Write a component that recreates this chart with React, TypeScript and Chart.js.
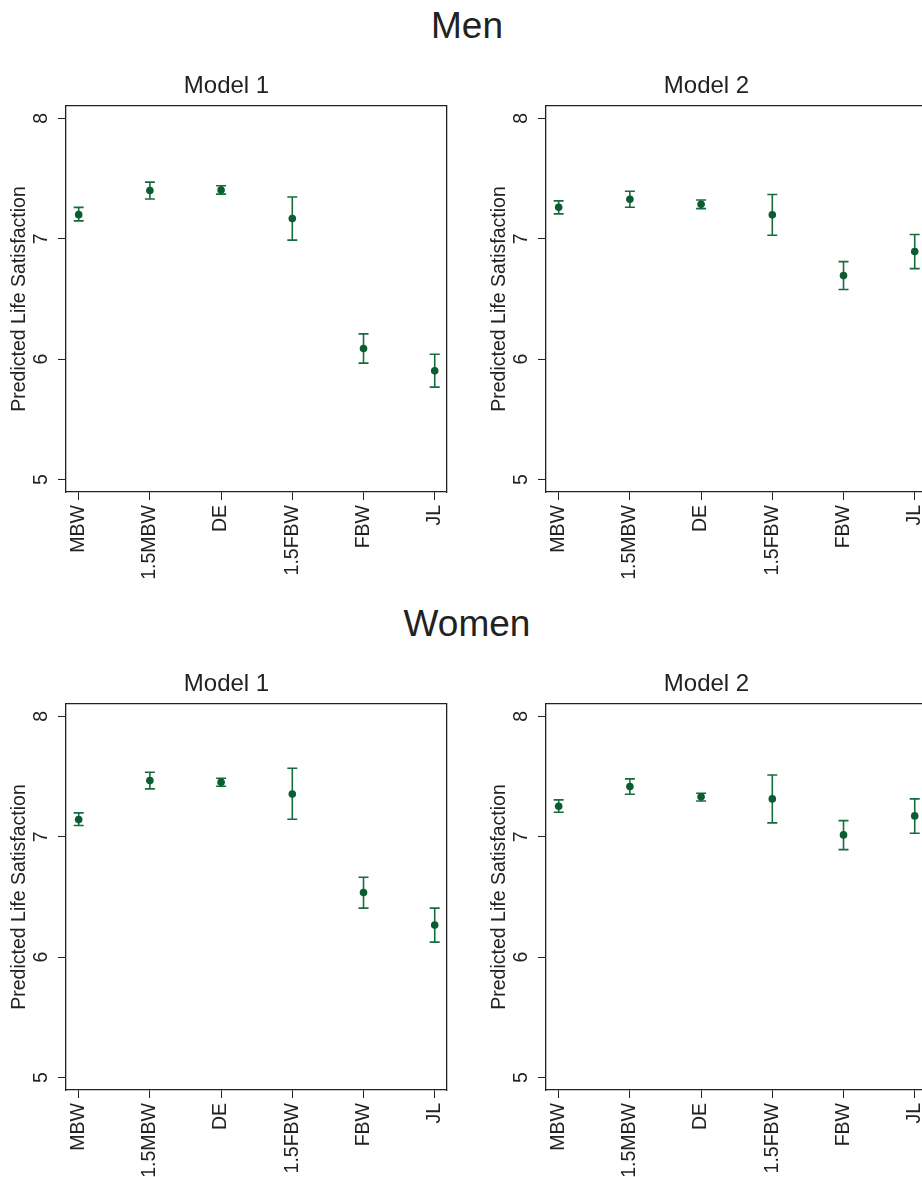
import React, { useEffect, useRef } from 'react';
import { Chart, registerables } from 'chart.js';

Chart.register(...registerables);

// ---------- data ----------
const categories = ['MBW', '1.5MBW', 'DE', '1.5FBW', 'FBW', 'JL'];
const yTicks = [5, 6, 7, 8];
const groupTitles = ['Men', 'Women'];
const modelTitles = ['Model 1', 'Model 2'];
const yAxisTitle = 'Predicted Life Satisfaction';

const menModel1Est = [7.2, 7.4, 7.405, 7.167, 6.089, 5.903];
const menModel1Lo = [7.148, 7.33, 7.37, 6.988, 5.967, 5.768];
const menModel1Hi = [7.26, 7.47, 7.44, 7.347, 6.21, 6.041];

const menModel2Est = [7.261, 7.328, 7.286, 7.198, 6.694, 6.893];
const menModel2Lo = [7.206, 7.261, 7.25, 7.029, 6.578, 6.752];
const menModel2Hi = [7.314, 7.394, 7.322, 7.367, 6.81, 7.035];

const womenModel1Est = [7.142, 7.466, 7.452, 7.355, 6.537, 6.266];
const womenModel1Lo = [7.093, 7.397, 7.419, 7.145, 6.407, 6.125];
const womenModel1Hi = [7.198, 7.535, 7.485, 7.568, 6.664, 6.407];

const womenModel2Est = [7.253, 7.416, 7.331, 7.314, 7.015, 7.173];
const womenModel2Lo = [7.203, 7.353, 7.297, 7.115, 6.893, 7.029];
const womenModel2Hi = [7.306, 7.48, 7.361, 7.513, 7.134, 7.314];

// ---------- style ----------
const FONT = '"Liberation Sans", Arial, Helvetica, sans-serif';
const GREEN_LINE = '#146d3c';
const GREEN_DOT = '#0b5d31';
const INK = '#222222';
const CW = 453;
const CH = 520;

type PanelProps = {
  title: string;
  est: number[];
  lo: number[];
  hi: number[];
  left: number;
  top: number;
};

const zeroPad = (s: any) => {
  s.paddingLeft = 0;
  s.paddingRight = 0;
  s.paddingTop = 0;
  s.paddingBottom = 0;
};

function Panel({ title, est, lo, hi, left, top }: PanelProps) {
  const ref = useRef<HTMLCanvasElement | null>(null);
  useEffect(() => {
    if (!ref.current) return;
    const whisker: any[] = [];
    categories.forEach((_, i) => {
      whisker.push({ x: i, y: lo[i] }, { x: i, y: hi[i] }, { x: i, y: null });
    });
    const tickFont = { family: FONT, size: 19.5, weight: 'normal' as const };
    const chart = new Chart(ref.current, {
      type: 'scatter',
      data: {
        datasets: [
          {
            data: est.map((v, i) => ({ x: i, y: v })),
            pointRadius: 3.8,
            pointBackgroundColor: GREEN_DOT,
            pointBorderWidth: 0,
            showLine: false,
          },
          {
            data: hi.map((v, i) => ({ x: i, y: v })),
            pointStyle: 'line',
            pointRadius: 5,
            pointBorderColor: GREEN_LINE,
            pointBorderWidth: 1.6,
            showLine: false,
          },
          {
            data: lo.map((v, i) => ({ x: i, y: v })),
            pointStyle: 'line',
            pointRadius: 5,
            pointBorderColor: GREEN_LINE,
            pointBorderWidth: 1.6,
            showLine: false,
          },
          {
            data: whisker,
            showLine: true,
            spanGaps: false,
            borderColor: GREEN_LINE,
            borderWidth: 1.6,
            pointRadius: 0,
          },
        ] as any,
      },
      options: {
        animation: false,
        responsive: false,
        devicePixelRatio: 1,
        layout: { padding: 0 },
        plugins: {
          legend: { display: false },
          tooltip: { enabled: false },
          title: {
            display: true,
            text: title,
            color: INK,
            font: { family: FONT, size: 24, weight: 'normal', lineHeight: 1.2 },
            padding: { top: 12.3, bottom: 4.9 },
          },
        },
        scales: {
          x: {
            type: 'linear',
            position: 'bottom',
            min: -0.178,
            max: 5.164,
            afterBuildTicks: (s: any) => {
              s.ticks = categories.map((_, i) => ({ value: i }));
            },
            afterFit: (s: any) => {
              s.height = 88;
              zeroPad(s);
            },
            ticks: {
              autoSkip: false,
              minRotation: 90,
              maxRotation: 90,
              padding: 5,
              color: INK,
              font: tickFont,
              callback: (v: any) => categories[Math.round(Number(v))],
            },
            grid: {
              drawOnChartArea: false,
              drawTicks: true,
              tickLength: 8,
              tickColor: INK,
              tickWidth: 1,
            },
            border: { display: true, color: INK, width: 1.3 },
          },
          x2: {
            type: 'linear',
            position: 'top',
            ticks: { display: false },
            grid: { display: false },
            border: { display: true, color: INK, width: 1.3 },
            afterFit: (s: any) => {
              s.height = 0;
              zeroPad(s);
            },
          },
          y: {
            type: 'linear',
            position: 'left',
            min: 4.897,
            max: 8.102,
            afterBuildTicks: (s: any) => {
              s.ticks = yTicks.map((v) => ({ value: v }));
            },
            afterFit: (s: any) => {
              s.width = 66;
              zeroPad(s);
            },
            ticks: {
              minRotation: 90,
              maxRotation: 90,
              crossAlign: 'center',
              padding: 11.3,
              color: INK,
              font: tickFont,
              callback: (v: any) => String(v),
            },
            grid: {
              drawOnChartArea: false,
              drawTicks: true,
              tickLength: 8,
              tickColor: INK,
              tickWidth: 1,
            },
            border: { display: true, color: INK, width: 1.3 },
            title: {
              display: true,
              text: yAxisTitle,
              color: INK,
              font: { family: FONT, size: 19.5, weight: 'normal', lineHeight: 1.2 },
              padding: { top: 7.5, bottom: 0 },
            },
          },
          y2: {
            type: 'linear',
            position: 'right',
            ticks: { display: false },
            grid: { display: false },
            border: { display: true, color: INK, width: 1.3 },
            afterFit: (s: any) => {
              s.width = 6.3;
              zeroPad(s);
            },
          },
        },
      } as any,
    });
    return () => chart.destroy();
  }, []);
  return (
    <canvas
      ref={ref}
      width={CW}
      height={CH}
      style={{ position: 'absolute', left, top, width: CW, height: CH }}
    />
  );
}

const groupTitleStyle = (top: number): React.CSSProperties => ({
  position: 'absolute',
  left: 0,
  top,
  width: 934,
  textAlign: 'center',
  fontFamily: FONT,
  fontSize: 37,
  lineHeight: '37px',
  color: INK,
  whiteSpace: 'nowrap',
});

export default function App() {
  return (
    <div
      style={{
        position: 'fixed',
        left: 0,
        top: 0,
        width: 922,
        height: 1177,
        overflow: 'hidden',
        background: '#ffffff',
      }}
    >
      <div style={groupTitleStyle(7)}>{groupTitles[0]}</div>
      <div style={groupTitleStyle(604.7)}>{groupTitles[1]}</div>
      <Panel title={modelTitles[0]} est={menModel1Est} lo={menModel1Lo} hi={menModel1Hi} left={0} top={60} />
      <Panel title={modelTitles[1]} est={menModel2Est} lo={menModel2Lo} hi={menModel2Hi} left={480} top={60} />
      <Panel title={modelTitles[0]} est={womenModel1Est} lo={womenModel1Lo} hi={womenModel1Hi} left={0} top={657.7} />
      <Panel title={modelTitles[1]} est={womenModel2Est} lo={womenModel2Lo} hi={womenModel2Hi} left={480} top={657.7} />
    </div>
  );
}
